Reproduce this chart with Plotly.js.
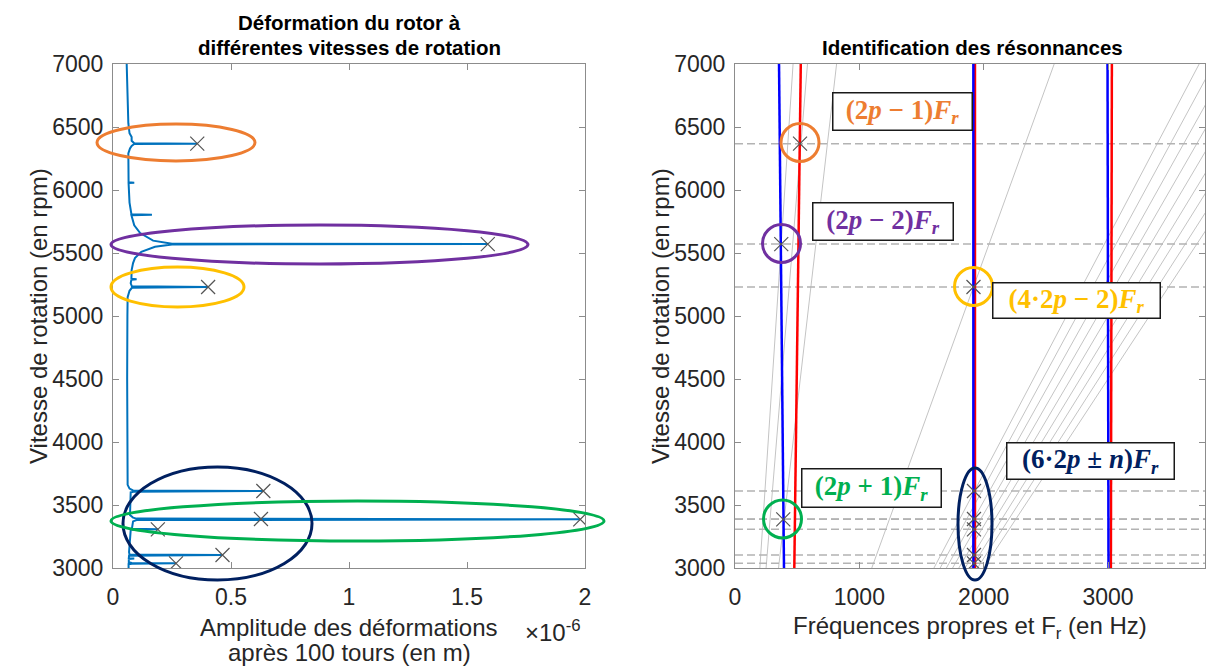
<!DOCTYPE html>
<html>
<head>
<meta charset="utf-8">
<script src="https://cdn.plot.ly/plotly-3.0.1.min.js"></script>
<style>html,body{margin:0;padding:0;background:#fff;}#chart{width:1208px;height:666px;}</style>
</head>
<body>
<div id="chart"></div>
<script>
// ---------- DATA ----------
// Left panel: deformation amplitude (x 1e-6 m) vs rotation speed (rpm)
const ampRpm = [3000,3030,3034,3037,3040,3045,3072,3075,3078,3098,3103,3108,3125,3300,3304,3307,3311,3370,3380,3386,3392,3400,3420,3600,3606,3611,3616,3630,3660,4000,4500,5000,5150,5200,5224,5230,5236,5260,5288,5292,5296,5365,5420,5460,5510,5550,5568,5571,5574,5598,5658,5720,5788,5800,5804,5808,5900,6000,6055,6058,6061,6290,6330,6350,6365,6368,6371,6390,6420,6450,6530,7000];
const ampVal = [0.066,0.066,0.08,0.267,0.08,0.067,0.067,0.09,0.067,0.068,0.464,0.07,0.068,0.075,0.08,0.19,0.08,0.085,0.1,1.98,0.1,0.085,0.072,0.075,0.09,0.637,0.085,0.07,0.062,0.06,0.06,0.061,0.062,0.07,0.08,0.403,0.08,0.075,0.078,0.10,0.078,0.079,0.085,0.093,0.12,0.178,0.25,1.588,0.25,0.17,0.115,0.09,0.079,0.078,0.165,0.078,0.07,0.066,0.066,0.09,0.066,0.065,0.072,0.079,0.09,0.357,0.09,0.079,0.079,0.07,0.065,0.058];
// Resonance peaks (markers)
const peakAmp = [0.357,1.588,0.403,0.637,0.627,1.98,0.19,0.464,0.267];
const peakRpm = [6368,5571,5230,3611,3389,3386,3307,3103,3037];

// Right panel: natural frequencies (Hz) at 3000 and 7000 rpm
const speedEnds = [3000,7000];
const blueModes = [[394,354],[1917,1917],[3004,2996]];
const redModes  = [[477,529],[1930,1930],[3023,3031]];
// Harmonic lines k*Fr : frequency at 3000 rpm and at 7000 rpm
const harmF3000 = [200,250,350,1100,1600,1650,1700,1750,1800,1850,1900,1950,2000];
const harmF7000 = [467,583,817,2567,3733,3850,3967,4083,4200,4317,4433,4550,4667];
// Resonance speeds (dashed lines) and their frequencies (markers)
const resRpm  = [6368,5571,5230,3611,3389,3386,3307,3103,3037];
const resFreq = [523,372,1918,1922,1922,388,1922,1922,1922];

const yTicks = [3000,3500,4000,4500,5000,5500,6000,6500,7000];
const xTicksL = [0,0.5,1,1.5,2];
const xTicksLText = ['0','0.5','1','1.5','2'];
const xTicksR = [0,1000,2000,3000];
const xRangeR = [0,3780];

// ---------- HELPERS ----------
const W = 1208, H = 666;
const px = v => v / W;
const py = v => 1 - v / H;

const traces = [];
traces.push({x: ampVal, y: ampRpm, xaxis:'x', yaxis:'y', mode:'lines',
  line:{color:'#0072BD', width:2}, hoverinfo:'skip'});
traces.push({x: peakAmp, y: peakRpm, xaxis:'x', yaxis:'y', mode:'markers',
  marker:{symbol:'x-thin', size:14, line:{color:'#555', width:1.2}}});

harmF3000.forEach((f0,i)=>{
  traces.push({x:[f0, harmF7000[i]], y: speedEnds, xaxis:'x2', yaxis:'y2', mode:'lines',
    line:{color:'#c4c4c4', width:1}});
});
resRpm.forEach(r=>{
  traces.push({x: xRangeR, y:[r,r], xaxis:'x2', yaxis:'y2', mode:'lines',
    line:{color:'#b3b3b3', width:1.5, dash:'8px,4px'}});
});
redModes.forEach(m=>traces.push({x:m, y:speedEnds, xaxis:'x2', yaxis:'y2', mode:'lines', line:{color:'#ff0000', width:2.5}}));
blueModes.forEach(m=>traces.push({x:m, y:speedEnds, xaxis:'x2', yaxis:'y2', mode:'lines', line:{color:'#0000ff', width:2.5}}));
traces.push({x: resFreq, y: resRpm, xaxis:'x2', yaxis:'y2', mode:'markers',
  marker:{symbol:'x-thin', size:14, line:{color:'#555', width:1.2}}});

const tickFont = {family:'Liberation Sans, Arial, sans-serif', size:23, color:'#262626'};
const labFont = {family:'Liberation Sans, Arial, sans-serif', size:24, color:'#262626'};
const axisBase = {showgrid:false, zeroline:false, showline:true, mirror:'allticks',
  linecolor:'#8c8c8c', linewidth:1, ticks:'inside', ticklen:6, tickcolor:'#8c8c8c',
  tickfont:tickFont, fixedrange:true};

const yDom = [py(568), py(64)];

const layout = {
  width: W, height: H, showlegend:false,
  margin:{l:0,r:0,t:0,b:0}, paper_bgcolor:'#fff', plot_bgcolor:'#fff',
  xaxis: Object.assign({}, axisBase, {domain:[px(113),px(585)], range:[0,2], tickvals:xTicksL, ticktext:xTicksLText, anchor:'y', ticklabelstandoff:8}),
  yaxis: Object.assign({}, axisBase, {domain:yDom, range:[3000,7000], tickvals:yTicks, anchor:'x', ticklabelstandoff:4}),
  xaxis2: Object.assign({}, axisBase, {domain:[px(735),px(1205)], range:xRangeR, tickvals:xTicksR, anchor:'y2', ticklabelstandoff:8}),
  yaxis2: Object.assign({}, axisBase, {domain:yDom, range:[3000,7000], tickvals:yTicks, anchor:'x2', ticklabelstandoff:4}),
  shapes: [], annotations: []
};

function ell(x0,x1,y0,y1,color){
  layout.shapes.push({type:'circle', xref:'paper', yref:'paper', x0:px(x0), x1:px(x1), y0:py(y1), y1:py(y0),
    line:{color:color, width:3}, layer:'above'});
}
const ORANGE='#ED7D31', PURPLE='#7030A0', YELLOW='#FFC000', GREEN='#00B050', NAVY='#002060';
ell(97,255,124,161,ORANGE);
ell(111,528,225,264,PURPLE);
ell(111,244,267,307,YELLOW);
ell(123,312,467,580,NAVY);
ell(111,604,501,541,GREEN);
ell(781,819,123.5,161.5,ORANGE);
ell(762.5,800.5,224.5,262.5,PURPLE);
ell(954.5,992.5,267.5,305.5,YELLOW);
ell(763.5,801.5,500,538,GREEN);
ell(958,992,468,580,NAVY);

function ann(text,x,y,opts){
  layout.annotations.push(Object.assign({xref:'paper', yref:'paper', x:px(x), y:py(y), text:text,
    showarrow:false, xanchor:'center', yanchor:'middle', font:labFont}, opts||{}));
}
const titleFont = {family:'Liberation Sans, Arial, sans-serif', size:20.5, color:'#000'};
ann('<b>Déformation du rotor à</b>',349,23,{font:titleFont});
ann('<b>différentes vitesses de rotation</b>',349,47,{font:titleFont});
ann('<b>Identification des résonnances</b>',972,47,{font:titleFont});
ann('Amplitude des déformations',349,627);
ann('après 100 tours (en m)',349,652);
ann('×10<sup>-6</sup>',553,631);
ann('Fréquences propres et F<sub>r</sub> (en Hz)',970,627);
ann('Vitesse de rotation (en rpm)',38,316,{textangle:-90});
ann('Vitesse de rotation (en rpm)',660,316,{textangle:-90});

const boxFont = c => ({family:'Liberation Serif, Times New Roman, serif', size:27, color:c});
function box(text,x0,x1,y0,y1,color){
  layout.annotations.push({xref:'paper', yref:'paper', x:px((x0+x1)/2), y:py((y0+y1)/2),
    xanchor:'center', yanchor:'middle', showarrow:false, text:'<b>'+text+'</b>',
    width:x1-x0-2, height:y1-y0-2, bgcolor:'#fff', bordercolor:'#1a1a1a', borderwidth:1.5, borderpad:0,
    font:boxFont(color)});
}
box('(2<i>p</i> − 1)<i>F<sub>r</sub></i>',832,972,93,131,ORANGE);
box('(2<i>p</i> − 2)<i>F<sub>r</sub></i>',812,953,203,241,PURPLE);
box('(4·2<i>p</i> − 2)<i>F<sub>r</sub></i>',992,1160,282,318,YELLOW);
box('(2<i>p</i> + 1)<i>F<sub>r</sub></i>',801,941,468,507,GREEN);
box('(6·2<i>p</i> ± <i>n</i>)<i>F<sub>r</sub></i>',1006,1174,443,480,NAVY);

Plotly.newPlot('chart', traces, layout, {staticPlot:true, displayModeBar:false});
</script>
</body>
</html>
